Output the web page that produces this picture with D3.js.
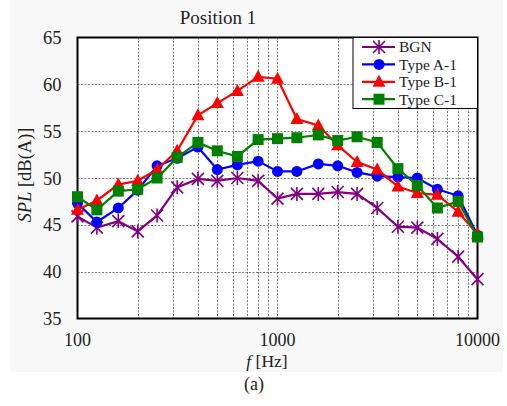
<!DOCTYPE html>
<html><head><meta charset="utf-8">
<script src="https://cdn.jsdelivr.net/npm/d3@7"></script>
<style>body{margin:0;background:#fff}svg{display:block}svg text{font-family:"Liberation Serif","DejaVu Serif",serif}</style>
</head><body>
<svg id="c" width="507" height="406"></svg>
<script>
const freqs = [100,125,160,200,250,315,400,500,630,800,1000,1250,1600,2000,2500,3150,4000,5000,6300,8000,10000];
const bgn   = [45.9,44.7,45.4,44.3,46.0,49.0,49.9,49.7,50.0,49.7,47.8,48.3,48.3,48.5,48.3,46.8,44.8,44.7,43.5,41.6,39.2];
const typeA = [47.3,45.3,46.8,48.7,51.3,52.1,53.3,50.9,51.4,51.8,50.7,50.7,51.5,51.3,50.6,50.2,50.1,50.0,48.8,48.1,43.9];
const typeB = [46.6,47.6,49.3,49.7,50.9,52.9,56.7,58.0,59.3,60.8,60.6,56.3,55.6,53.5,51.7,50.9,49.1,48.4,48.2,46.4,44.0];
const typeC = [48.0,46.6,48.6,48.8,50.0,52.2,53.8,52.9,52.3,54.1,54.2,54.3,54.6,54.0,54.4,53.8,51.0,49.2,46.8,47.5,43.7];
const seriesNames = ["BGN","Type A-1","Type B-1","Type C-1"];
const yTicks = [35,40,45,50,55,60,65];
const xTicks = [100,1000,10000];

const svg = d3.select("#c");
const txt = "#222";
svg.append("rect").attr("x",10).attr("y",0).attr("width",493).attr("height",372).attr("fill","#f8f8f8");

const L=77.5,R=477.5,T=37.5,B=318.5;
const x = d3.scaleLog().domain([100,10000]).range([L,R]);
const y = d3.scaleLinear().domain([35,65]).range([B,T]);

svg.append("rect").attr("x",L).attr("y",T).attr("width",R-L).attr("height",B-T).attr("fill","#fff");

// grid
const minor = [];
[100,1000].forEach(d=>{for(let k=2;k<=9;k++) minor.push(d*k);});
minor.push(1000);
const g = svg.append("g");
g.selectAll("line.v").data(minor).join("line")
  .attr("x1",d=>Math.round(x(d))+0.5).attr("x2",d=>Math.round(x(d))+0.5)
  .attr("y1",T).attr("y2",B).attr("stroke","#555").attr("stroke-width",0.8).attr("stroke-dasharray","2,1.5");
g.selectAll("line.h").data(yTicks.slice(1,-1)).join("line")
  .attr("y1",d=>Math.round(y(d))+0.5).attr("y2",d=>Math.round(y(d))+0.5)
  .attr("x1",L).attr("x2",R).attr("stroke","#555").attr("stroke-width",0.8).attr("stroke-dasharray","2,1.5");

svg.append("rect").attr("x",L).attr("y",T).attr("width",R-L).attr("height",B-T)
  .attr("fill","none").attr("stroke","#000").attr("stroke-width",2);

// tick labels
svg.selectAll("text.yt").data(yTicks).join("text")
  .attr("x",L-16).attr("y",d=>y(d)+6.5).attr("text-anchor","end")
  .attr("font-size",18.5).attr("fill",txt).text(d=>d);
svg.selectAll("text.xt").data(xTicks).join("text")
  .attr("x",d=>x(d)).attr("y",346).attr("text-anchor","middle")
  .attr("font-size",18).attr("fill",txt).text(d=>d);

// titles
svg.append("text").attr("x",218).attr("y",24).attr("text-anchor","middle")
  .attr("font-size",19).attr("fill",txt).text("Position 1");
const xt = svg.append("text").attr("x",267).attr("y",367).attr("text-anchor","middle")
  .attr("font-size",17.5).attr("fill",txt);
xt.append("tspan").attr("font-style","italic").text("f");
xt.append("tspan").text(" [Hz]");
const yt = svg.append("text").attr("transform","translate(31,175) rotate(-90)").attr("text-anchor","middle")
  .attr("font-size",18.5).attr("fill",txt);
yt.append("tspan").attr("font-style","italic").text("SPL");
yt.append("tspan").text(" [dB(A)]");
svg.append("text").attr("x",254).attr("y",390).attr("text-anchor","middle")
  .attr("font-size",18).attr("fill",txt).text("(a)");

const colors = ["#800080","#0000ff","#ff0000","#008000"];
const shapes = ["star","circle","triangle","square"];
const data = [bgn,typeA,typeB,typeC];

function marker(sel, shape, color){
  if(shape==="circle") sel.append("circle").attr("r",5.5).attr("fill",color);
  else if(shape==="square") sel.append("rect").attr("x",-5.5).attr("y",-5.5).attr("width",11).attr("height",11).attr("fill",color);
  else if(shape==="triangle") sel.append("path").attr("d","M0,-7L6.5,5L-6.5,5Z").attr("fill",color);
  else {
    sel.append("path").attr("d","M-6,-6L6,6M-6,6L6,-6M0,-7L0,7").attr("stroke",color).attr("stroke-width",1.6).attr("fill","none");
  }
}

const line = d3.line().x((d,i)=>x(freqs[i])).y(d=>y(d));
data.forEach((arr,si)=>{
  const gs = svg.append("g");
  gs.append("path").attr("d",line(arr)).attr("fill","none").attr("stroke",colors[si]).attr("stroke-width",2.2);
  arr.forEach((v,i)=>{
    const m = gs.append("g").attr("transform",`translate(${x(freqs[i])},${y(v)})`);
    marker(m, shapes[si], colors[si]);
  });
});

// legend
const lg = svg.append("g");
lg.append("rect").attr("x",353).attr("y",T).attr("width",R-353).attr("height",71)
  .attr("fill","#fff").attr("stroke","#000").attr("stroke-width",1);
seriesNames.forEach((n,i)=>{
  const yy = 47+i*17.4;
  lg.append("line").attr("x1",362).attr("x2",395).attr("y1",yy).attr("y2",yy)
    .attr("stroke",colors[i]).attr("stroke-width",2.2);
  const m = lg.append("g").attr("transform",`translate(379,${yy})`);
  marker(m, shapes[i], colors[i]);
  lg.append("text").attr("x",399).attr("y",yy+5.3).attr("font-size",15.5)
    .attr("fill",txt).text(n);
});
</script>
</body></html>
